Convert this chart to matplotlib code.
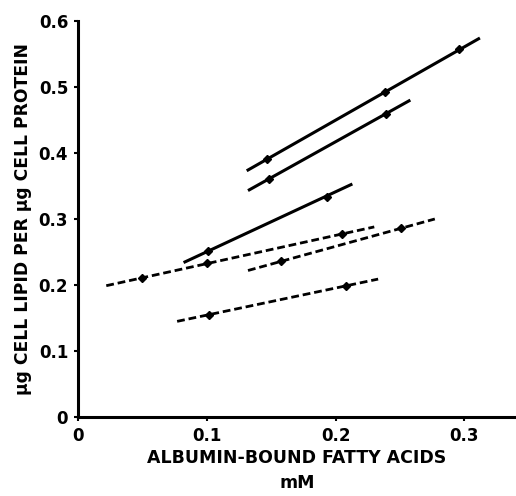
import matplotlib
matplotlib.use("Agg")
import matplotlib.pyplot as plt

# each fitted line: its two end points, then the measured points on it
solid_1_ends_x = [0.131, 0.312]
solid_1_ends_y = [0.373, 0.574]
solid_1_pts_x = [0.147, 0.238, 0.296]
solid_1_pts_y = [0.391, 0.492, 0.558]

solid_2_ends_x = [0.132, 0.258]
solid_2_ends_y = [0.343, 0.480]
solid_2_pts_x = [0.148, 0.239]
solid_2_pts_y = [0.361, 0.459]

solid_3_ends_x = [0.082, 0.213]
solid_3_ends_y = [0.234, 0.353]
solid_3_pts_x = [0.101, 0.193]
solid_3_pts_y = [0.252, 0.334]

dash_1_ends_x = [0.022, 0.230]
dash_1_ends_y = [0.199, 0.288]
dash_1_pts_x = [0.050, 0.100, 0.205]
dash_1_pts_y = [0.210, 0.233, 0.277]

dash_2_ends_x = [0.132, 0.277]
dash_2_ends_y = [0.222, 0.300]
dash_2_pts_x = [0.158, 0.251]
dash_2_pts_y = [0.236, 0.286]

dash_3_ends_x = [0.077, 0.233]
dash_3_ends_y = [0.145, 0.209]
dash_3_pts_x = [0.102, 0.208]
dash_3_pts_y = [0.155, 0.199]

x_ticks = [0, 0.1, 0.2, 0.3]
x_tick_labels = ["0", "0.1", "0.2", "0.3"]
y_ticks = [0, 0.1, 0.2, 0.3, 0.4, 0.5, 0.6]
y_tick_labels = ["0", "0.1", "0.2", "0.3", "0.4", "0.5", "0.6"]

fig = plt.figure(figsize=(5.16, 4.96), dpi=100)
ax = fig.add_axes([0.151, 0.159, 0.849, 0.799])

solid = [
    (solid_1_ends_x, solid_1_ends_y, solid_1_pts_x, solid_1_pts_y),
    (solid_2_ends_x, solid_2_ends_y, solid_2_pts_x, solid_2_pts_y),
    (solid_3_ends_x, solid_3_ends_y, solid_3_pts_x, solid_3_pts_y),
]
dashed = [
    (dash_1_ends_x, dash_1_ends_y, dash_1_pts_x, dash_1_pts_y),
    (dash_2_ends_x, dash_2_ends_y, dash_2_pts_x, dash_2_pts_y),
    (dash_3_ends_x, dash_3_ends_y, dash_3_pts_x, dash_3_pts_y),
]

for ex, ey, px, py in solid:
    ax.plot(ex, ey, color="black", lw=2.2, solid_capstyle="butt")
    ax.plot(px, py, "D", color="black", ms=4.2)
for ex, ey, px, py in dashed:
    ax.plot(ex, ey, color="black", lw=2.0, dashes=(2.8, 1.4))
    ax.plot(px, py, "D", color="black", ms=4.2)

ax.set_xlim(0, 0.34)
ax.set_ylim(0, 0.6)
ax.spines["top"].set_visible(False)
ax.spines["right"].set_visible(False)
ax.spines["left"].set_linewidth(2.2)
ax.spines["bottom"].set_linewidth(2.2)

ax.set_xticks(x_ticks)
ax.set_xticklabels(x_tick_labels, fontsize=12, fontweight="bold")
ax.set_yticks(y_ticks)
ax.set_yticklabels(y_tick_labels, fontsize=12, fontweight="bold")
ax.tick_params(direction="out", length=3, width=1.5, pad=4)

ax.set_ylabel("\u00b5g CELL LIPID PER \u00b5g CELL PROTEIN",
              fontsize=12.3, fontweight="bold", labelpad=5)
ax.set_xlabel("ALBUMIN-BOUND FATTY ACIDS\nmM", fontsize=12.5,
              fontweight="bold", linespacing=1.5, labelpad=3)

fig.savefig("out.png", dpi=100)
